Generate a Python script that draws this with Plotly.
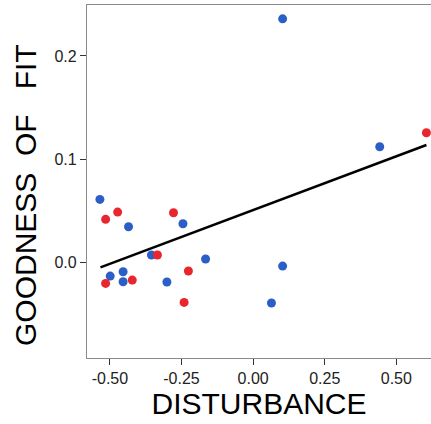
import plotly.graph_objects as go

# Blue group
blue_x = [0.103, 0.442, -0.535, -0.435, -0.245, -0.355, -0.166, 0.103, -0.499, -0.454, -0.454, -0.301, 0.064]
blue_y = [0.236, 0.112, 0.061, 0.0345, 0.0374, 0.0071, 0.0032, -0.0036, -0.0133, -0.0091, -0.0188, -0.0191, -0.0394]

# Red group
red_x = [0.605, -0.473, -0.515, -0.278, -0.334, -0.226, -0.422, -0.515, -0.241]
red_y = [0.1256, 0.0487, 0.0417, 0.0481, 0.0071, -0.0084, -0.0172, -0.0204, -0.0388]

# Fit line endpoints
fit_x = [-0.533, 0.605]
fit_y = [-0.0048, 0.1137]

x_ticks = [-0.5, -0.25, 0.0, 0.25, 0.5]
x_tick_labels = ["-0.50", "-0.25", "0.00", "0.25", "0.50"]
y_ticks = [0.0, 0.1, 0.2]
y_tick_labels = ["0.0", "0.1", "0.2"]

x_title = "DISTURBANCE"
y_title = "GOODNESS\u00a0\u00a0OF\u00a0\u00a0\u00a0FIT"

fig = go.Figure()
fig.add_trace(go.Scatter(x=blue_x, y=blue_y, mode="markers",
                         marker=dict(color="#2b5fc7", size=9, line=dict(width=0)),
                         showlegend=False))
fig.add_trace(go.Scatter(x=red_x, y=red_y, mode="markers",
                         marker=dict(color="#e8262e", size=9, line=dict(width=0)),
                         showlegend=False))
fig.add_trace(go.Scatter(x=fit_x, y=fit_y, mode="lines",
                         line=dict(color="black", width=2.5),
                         showlegend=False))

fig.update_layout(
    width=431, height=424,
    margin=dict(l=87, r=0, t=5, b=66),
    paper_bgcolor="white", plot_bgcolor="white",
    font=dict(family="Liberation Sans, Arial, sans-serif", color="black"),
    xaxis=dict(
        range=[-0.580, 0.621], tickmode="array", tickvals=x_ticks, ticktext=x_tick_labels,
        showgrid=False, zeroline=False, showline=True, mirror=True,
        linecolor="#8a8a8a", linewidth=1.2, automargin=False,
        ticks="outside", ticklen=6, tickcolor="#333", tickwidth=1.2,
        tickfont=dict(size=16, color="#222"),
        title=dict(text=x_title, font=dict(size=30, color="black"), standoff=4),
    ),
    yaxis=dict(
        range=[-0.0927, 0.2494], tickmode="array", tickvals=y_ticks, ticktext=y_tick_labels,
        showgrid=False, zeroline=False, showline=True, mirror=False,
        linecolor="#8a8a8a", linewidth=1.2, automargin=False,
        ticks="outside", ticklen=6, tickcolor="#333", tickwidth=1.2,
        tickfont=dict(size=16, color="#222"),
    ),
    annotations=[dict(
        text=y_title, textangle=-90, showarrow=False,
        xref="paper", yref="paper", x=(26 - 87) / 344, y=(358 - 195) / 353,
        xanchor="center", yanchor="middle",
        font=dict(size=30, color="black"),
    )],
)

fig.write_html("out.html", config={"displayModeBar": False},
               post_script="document.body.style.margin='0';")
